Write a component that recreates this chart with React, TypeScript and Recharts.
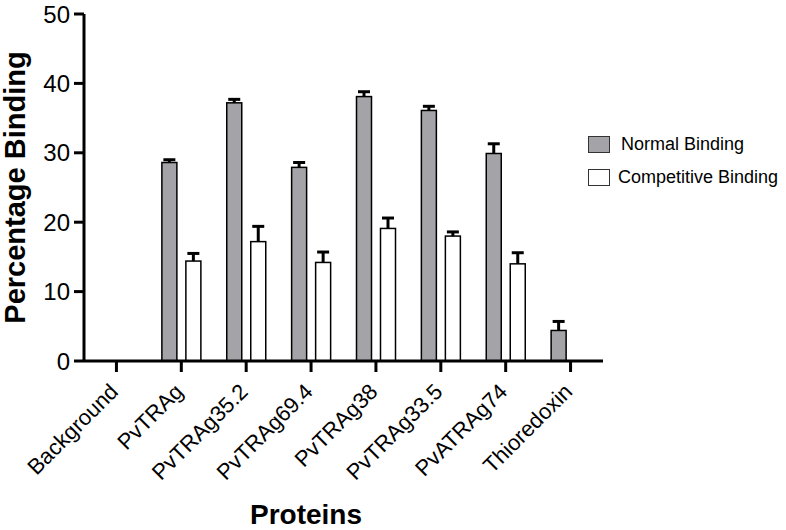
import { BarChart, Bar, XAxis, YAxis, Legend, Label } from 'recharts';

const categories = ['Background', 'PvTRAg', 'PvTRAg35.2', 'PvTRAg69.4', 'PvTRAg38', 'PvTRAg33.5', 'PvATRAg74', 'Thioredoxin'];
const normalBinding = [0, 28.6, 37.2, 27.9, 38.1, 36.1, 29.9, 4.4];
const normalError = [0, 0.4, 0.5, 0.7, 0.7, 0.6, 1.4, 1.3];
const competitiveBinding = [0, 14.4, 17.2, 14.2, 19.1, 18.0, 14.0, null];
const competitiveError = [0, 1.1, 2.2, 1.5, 1.5, 0.6, 1.6, null];
const yTicks = [0, 10, 20, 30, 40, 50];

const series = [
  { key: 'normal', errKey: 'normalErr', name: 'Normal Binding', fill: '#a3a3a8' },
  { key: 'competitive', errKey: 'competitiveErr', name: 'Competitive Binding', fill: '#ffffff' },
];

const data = categories.map((name, i) => ({
  name,
  normal: normalBinding[i],
  normalErr: normalError[i],
  competitive: competitiveBinding[i],
  competitiveErr: competitiveError[i],
}));

const FONT = 'Arial, "Liberation Sans", sans-serif';

// bar with an upper-only error whisker, sized from the bar's own pixel scale
const barWithError = (key: string, errKey: string) => (props: any) => {
  const { x, y, width, height, fill, payload } = props;
  const val = payload[key];
  if (!val || !height) return <g />;
  const err = payload[errKey] || 0;
  const top = y - (err * height) / val;
  const cx = x + width / 2;
  return (
    <g>
      <rect x={x} y={y} width={width} height={height} fill={fill} stroke="#000" strokeWidth={1.5} />
      {err > 0 && (
        <g stroke="#000" strokeWidth={3}>
          <line x1={cx} y1={y} x2={cx} y2={top} />
          <line x1={cx - 6} y1={top} x2={cx + 6} y2={top} />
        </g>
      )}
    </g>
  );
};

const AngledTick = ({ x, y, payload }: any) => {
  const ax = x + 3;
  const ay = y + 19;
  return (
    <text
      x={ax}
      y={ay}
      transform={`rotate(-45 ${ax} ${ay})`}
      textAnchor="end"
      fontSize={22}
      fontFamily={FONT}
      fill="#000"
    >
      {payload.value}
    </text>
  );
};

const LegendBox = () => (
  <div style={{ fontFamily: FONT, fontSize: 18, color: '#000' }}>
    {series.map((s, i) => (
      <div key={s.key} style={{ display: 'flex', alignItems: 'center', height: 17, marginBottom: i === 0 ? 16 : 0 }}>
        <span
          style={{
            display: 'inline-block',
            width: 20,
            height: 15,
            background: s.fill,
            border: '1.5px solid #333',
            marginRight: i === 0 ? 11 : 8,
          }}
        />
        <span>{s.name}</span>
      </div>
    ))}
  </div>
);

export default function App() {
  return (
    <div style={{ position: 'absolute', left: 0, top: 0, background: '#fff' }}>
      <BarChart
        width={786}
        height={530}
        data={data}
        margin={{ top: 14, right: 183, bottom: 0, left: 0 }}
        barSize={15}
        barGap={9}
      >
        <XAxis
          dataKey="name"
          height={169}
          interval={0}
          tick={<AngledTick />}
          tickSize={11}
          axisLine={{ stroke: '#000', strokeWidth: 3 }}
          tickLine={{ stroke: '#000', strokeWidth: 3 }}
        >
          <Label
            content={({ viewBox }: any) => (
              <text
                x={viewBox.x + 222}
                y={viewBox.y + 163}
                textAnchor="middle"
                fontSize={28}
                fontWeight="bold"
                fontFamily={FONT}
                fill="#000"
              >
                Proteins
              </text>
            )}
          />
        </XAxis>
        <YAxis
          width={84}
          domain={[0, 50]}
          ticks={yTicks}
          interval={0}
          tickSize={10}
          tickMargin={4}
          tick={{ fill: '#000', fontSize: 24, fontFamily: FONT }}
          axisLine={{ stroke: '#000', strokeWidth: 3 }}
          tickLine={{ stroke: '#000', strokeWidth: 3 }}
        >
          <Label
            content={({ viewBox }: any) => {
              const lx = viewBox.x + 25;
              const ly = viewBox.y + viewBox.height / 2;
              return (
                <text
                  x={lx}
                  y={ly}
                  transform={`rotate(-90 ${lx} ${ly})`}
                  textAnchor="middle"
                  fontSize={29}
                  fontWeight="bold"
                  fontFamily={FONT}
                  fill="#000"
                >
                  Percentage Binding
                </text>
              );
            }}
          />
        </YAxis>
        <Legend
          layout="vertical"
          align="center"
          verticalAlign="middle"
          content={<LegendBox />}
          wrapperStyle={{ position: 'absolute', left: 588, top: 136, width: 198 }}
        />
        {series.map((s) => (
          <Bar
            key={s.key}
            dataKey={s.key}
            name={s.name}
            fill={s.fill}
            shape={barWithError(s.key, s.errKey)}
            isAnimationActive={false}
          />
        ))}
      </BarChart>
    </div>
  );
}
